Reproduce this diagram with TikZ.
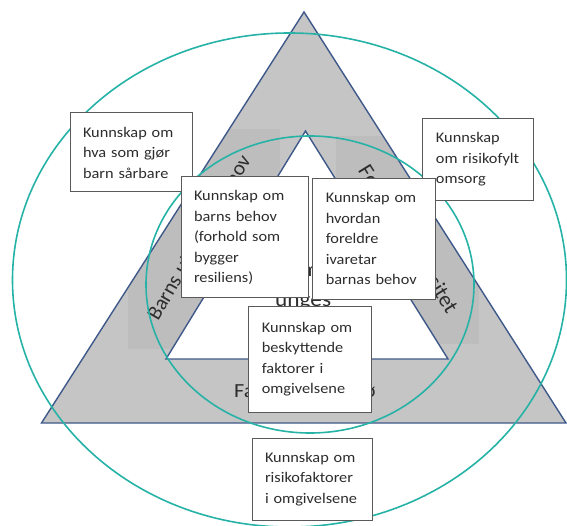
\documentclass[tikz,border=0pt]{standalone}
\usepackage{fontspec}
\setmainfont{Carlito}[FakeStretch=1.11]
\newfontfamily\rotfont{Carlito}
\definecolor{trifill}{RGB}{197,197,197}
\definecolor{trirect}{RGB}{189,189,189}
\definecolor{triline}{RGB}{62,88,138}
\definecolor{ringcol}{RGB}{38,178,166}
\definecolor{boxline}{RGB}{90,90,90}
\definecolor{txt}{RGB}{45,45,45}
\begin{document}
\begin{tikzpicture}[x=1pt,y=-1pt,
  infobox/.style={draw=boxline, line width=1pt, fill=white, text=txt, align=left,
    inner xsep=13pt, inner ysep=0pt, font=\fontsize{14.7}{20.5}\selectfont},
  ring/.style={draw=ringcol, line width=1.6pt},
  triedge/.style={draw=triline, line width=1.4pt, line join=miter},
  lab/.style={text=txt, inner sep=0pt},
  rotlab/.style={lab, font=\rotfont\fontsize{22}{26}\selectfont},
  flatlab/.style={lab, font=\fontsize{20}{24}\selectfont},
]
\useasboundingbox (0,0) rectangle (567,526);
% outer triangle
\coordinate (OA) at (304,12);
\coordinate (OB) at (41.5,423);
\coordinate (OC) at (566,423);
% inner triangle
\coordinate (IA) at (305.5,131);
\coordinate (IB) at (166,359);
\coordinate (IC) at (448,359);
\fill[trifill] (OA) -- (OB) -- (OC) -- cycle;
\begin{scope}
  \clip (OA) -- (OB) -- (OC) -- cycle;
  \fill[trirect] (128,129) rectangle (280,349);
  \fill[trirect] (336,136) rectangle (479,344);
\end{scope}
\fill[white] (IA) -- (IB) -- (IC) -- cycle;
\draw[triedge] (OA) -- (OB) -- (OC) -- cycle;
\draw[triedge] (IA) -- (IB) -- (IC) -- cycle;
% triangle labels (partly hidden by the boxes)
\node[rotlab, font=\rotfont\fontsize{21}{25}\selectfont, rotate=60, anchor=base east] (lleft) at (251.5,160) {Barns utviklingsbehov};
\node[rotlab, rotate=-58.2, anchor=base east] (lright) at (447,315) {Foreldres kapasitet};
\node[flatlab, anchor=base west] (lbottom) at (234,397.5) {Familie og miljø};
\node[flatlab, font=\fontsize{21}{25}\selectfont, anchor=base] (lcenter1) at (310,277) {m};
\node[flatlab, font=\fontsize{21}{25}\selectfont, anchor=base west] (lcenter2) at (275,306.3) {unges};
% ellipses
\draw[ring] (289.5,280) ellipse [x radius=277pt, y radius=247pt];
\draw[ring] (310,284.5) ellipse [x radius=164pt, y radius=148.5pt];
% boxes
\node[infobox, minimum width=122pt, minimum height=79pt, text width=96pt] (b1) at (131,152.5)
  {Kunnskap om\\hva som gjør\\barn sårbare};
\node[infobox, minimum width=110.5pt, minimum height=82pt, text width=84.5pt] (b2) at (478.2,159.4)
  {Kunnskap\\om risikofylt\\omsorg};
\node[infobox, minimum width=127pt, minimum height=121pt, text width=101pt] (b3) at (244.5,237.5)
  {Kunnskap om\\barns behov\\(forhold som\\bygger\\resiliens)};
\node[infobox, minimum width=123pt, minimum height=121pt, text width=97pt] (b4) at (374.3,238.6)
  {Kunnskap om\\hvordan\\foreldre\\ivaretar\\barnas behov};
\node[infobox, minimum width=122.6pt, minimum height=105.6pt, text width=96.6pt] (b5) at (310.1,359.2)
  {Kunnskap om\\beskyttende\\faktorer i\\omgivelsene};
\node[infobox, minimum width=120pt, minimum height=82pt, text width=94pt] (b6) at (312,479)
  {Kunnskap om\\risikofaktorer\\i omgivelsene};
\end{tikzpicture}
\end{document}
